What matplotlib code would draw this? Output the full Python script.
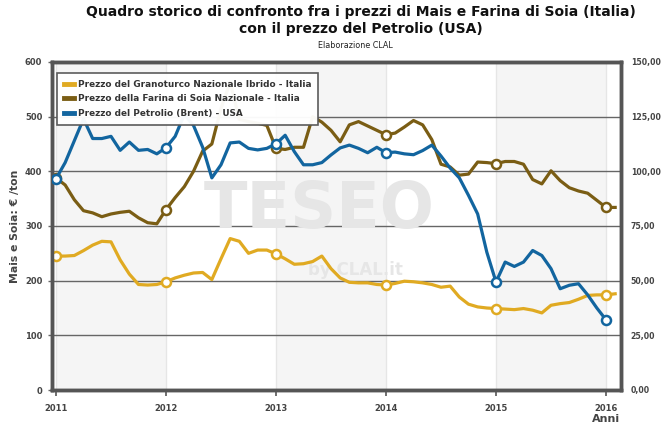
import matplotlib
matplotlib.use("Agg")
import matplotlib.pyplot as plt
from matplotlib.lines import Line2D
from matplotlib.ticker import FuncFormatter
import numpy as np

# ---------------- data (monthly, Jan 2011 onwards) ----------------
start_year = 2011
maize = [
    245, 245, 246, 255, 265, 272, 271, 238, 212, 193, 192, 193,   # 2011
    198, 205, 210, 214, 215, 202, 240, 277, 272, 250, 256, 256,   # 2012
    249, 240, 230, 231, 235, 245, 222, 205, 197, 196, 196, 193,   # 2013
    192, 195, 199, 198, 196, 193, 188, 190, 170, 157, 152, 150,   # 2014
    149, 148, 147, 149, 146, 141, 155, 158, 160, 166, 173, 174,   # 2015
    174, 176]                                                     # 2016
soy = [
    388, 375, 348, 328, 324, 317, 322, 325, 327, 315, 306, 304,
    330, 352, 372, 400, 437, 450, 515, 563, 495, 491, 488, 484,
    442, 440, 444, 444, 500, 490, 475, 454, 485, 491, 483, 475,
    467, 470, 481, 493, 485, 458, 413, 408, 393, 395, 417, 416,
    414, 418, 418, 413, 385, 377, 401, 383, 370, 364, 360, 347,
    334, 334]
oil = [
    96.6, 104, 114, 124, 115, 115, 116, 109.6, 113.4, 109.6, 110, 108,
    110.8, 116, 126, 121, 111, 97, 103, 113, 113.4, 110.5, 109.8, 110.5,
    112.6, 116.5, 109, 103, 103, 104, 107.5, 110.7, 112, 110.5, 108.5, 111,
    108.5, 108.8, 108, 107.6, 109.5, 112, 107, 101.5, 97, 89, 80.5, 63,
    49.4, 58.5, 56.5, 58.5, 63.8, 61.5, 55.5, 46.3, 47.9, 48.6, 43.5, 37.5,
    32.1]
year_ticks = [2011, 2012, 2013, 2014, 2015, 2016]
left_ticks = [0, 100, 200, 300, 400, 500, 600]
right_ticks = [0, 25, 50, 75, 100, 125, 150]
labels = ["Prezzo del Granoturco Nazionale Ibrido - Italia",
          "Prezzo della Farina di Soia Nazionale - Italia",
          "Prezzo del Petrolio (Brent) - USA"]
colors = ["#E0AA22", "#7A5D14", "#12659F"]

title = "Quadro storico di confronto fra i prezzi di Mais e Farina di Soia (Italia)\ncon il prezzo del Petrolio (USA)"
subtitle = "Elaborazione CLAL"
ylabel = "Mais e Soia: € /ton"
xlabel = "Anni"

# ---------------- figure ----------------
plt.rcParams['font.family'] = ['DejaVu Sans']
W, H = 662, 426
fig = plt.figure(figsize=(W / 100, H / 100), dpi=100)
L, R, T, B = 52, 621, 62, 390
ax = fig.add_axes([L / W, 1 - B / H, (R - L) / W, (B - T) / H])
ax2 = ax.twinx()

x_m = start_year + np.arange(len(maize)) / 12
x_s = start_year + np.arange(len(soy)) / 12
x_o = start_year + np.arange(len(oil)) / 12

xmin = 2011 - 4 / 110
xmax = 2016 + 15 / 110
ax.set_xlim(xmin, xmax)
ax.set_ylim(0, 600)
ax2.set_ylim(0, 150)

# alternating background bands
for y0 in [2011, 2013, 2015]:
    ax.axvspan(max(y0, xmin), y0 + 1, color="#f5f5f5", zorder=0, lw=0)
for y0 in year_ticks:
    ax.axvline(y0, color="#e6e6e6", lw=1, zorder=0.5)
ax.set_yticks(left_ticks)
ax.yaxis.grid(True, color="#666666", lw=1)
ax.set_axisbelow(True)

# watermark
ax.text(0.47, 0.55, "TESEO", transform=ax.transAxes, ha="center", va="center",
        fontsize=46, fontweight="heavy", color="#e6e6e6", zorder=0.6)
ax.text(0.45, 0.365, "by CLAL.it", transform=ax.transAxes, ha="left", va="center",
        fontsize=12, fontweight="bold", color="#e6e6e6", zorder=0.6)

mk = dict(marker="o", markersize=6.5, markerfacecolor="white", markeredgewidth=1.8,
          markevery=[0, 12, 24, 36, 48, 60])
ax.plot(x_m, maize, color=colors[0], lw=2.3, solid_joinstyle="round", zorder=3, **mk)
ax.plot(x_s, soy, color=colors[1], lw=2.3, solid_joinstyle="round", zorder=3, **mk)
ax2.plot(x_o, oil, color=colors[2], lw=2.3, solid_joinstyle="round", zorder=3, **mk)

# ticks
tick_kw = dict(fontsize=6, fontweight="bold", color="#444444")
ax.set_xticks(year_ticks)
ax.set_xticklabels([str(y) for y in year_ticks], **tick_kw)
ax.tick_params(axis="x", length=4, width=1.2, color="#555555", pad=6)
ax.set_yticklabels([str(v) for v in left_ticks], **tick_kw)
ax.tick_params(axis="y", length=3, width=1, color="#666666", pad=4)
ax2.set_yticks(right_ticks)
ax2.yaxis.set_major_formatter(FuncFormatter(lambda v, p: f"{v:.2f}".replace(".", ",")))
for t in ax2.get_yticklabels():
    t.set_fontsize(5.6); t.set_fontweight("bold"); t.set_color("#444444")
ax2.tick_params(axis="y", length=0, pad=7, labelsize=5.6)

for a in (ax, ax2):
    for s in a.spines.values():
        s.set_linewidth(2.5)
        s.set_color("#555555")

# legend
handles = [Line2D([], [], color=c, lw=3.5) for c in colors]
leg = ax2.legend(handles, labels, loc="upper left", bbox_to_anchor=(0.009, 0.966),
                 borderaxespad=0, fancybox=False, framealpha=0.96, edgecolor="#555555",
                 prop=dict(size=6.4, weight="bold"), handlelength=1.1, handletextpad=0.5,
                 labelspacing=0.62, borderpad=0.75)
leg.get_frame().set_linewidth(1.2)
for t in leg.get_texts():
    t.set_color("#333333")
leg.set_zorder(10)

# titles and labels
fig.text(361 / W, 1 - 5 / H, title, ha="center", va="top", fontsize=10,
         fontweight="bold", color="#111111", linespacing=1.3)
fig.text(355 / W, 1 - 46 / H, subtitle, ha="center", va="center", fontsize=5.8, color="#222222")
fig.text(15 / W, 1 - 226 / H, ylabel, ha="center", va="center", rotation=90,
         fontsize=7.8, fontweight="bold", color="#444444")
fig.text(620 / W, 1 - 419 / H, xlabel, ha="right", va="center", fontsize=8,
         fontweight="bold", color="#444444")

fig.savefig("out.png", dpi=100)
